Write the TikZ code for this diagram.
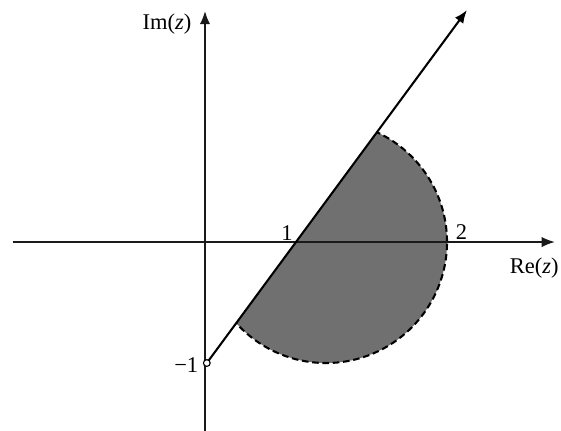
\documentclass[tikz,border=0pt]{standalone}
\usepackage{fontspec}
\setmainfont{Liberation Serif}
\usetikzlibrary{arrows.meta}
\definecolor{regionfill}{HTML}{707070}
\definecolor{axes}{HTML}{1A1A1A}

\begin{document}
\begin{tikzpicture}[x=2.27cm, y=2.27cm, font=\fontsize{12}{14}\selectfont]
  \useasboundingbox (-1.694, -1.554) rectangle (2.942, 2.0);

  % Key points
  \coordinate (xl) at (-1.59, 0);
  \coordinate (xr) at (2.89, 0);
  \coordinate (yb) at (0, -1.56);
  \coordinate (yt) at (0, 1.91);
  \coordinate (m1) at (0.015, -1);
  \coordinate (tip) at (2.165, 1.917);
  \coordinate (c) at (1, 0);

  % Half disc to the right of the ray
  \begin{scope}
    \clip (m1) -- (tip) -- (2.94, 1.917) -- (2.94, -1.55) -- (0.015, -1.55) -- cycle;
    \fill[regionfill] (c) circle (1);
    \draw[line width=1.1pt, dash pattern=on 3.5pt off 2pt] (c) circle (1);
  \end{scope}

  % Axes
  \draw[-{Latex[length=7pt, width=5.5pt]}, semithick, draw=axes] (xl) -- (xr);
  \draw[-{Latex[length=7pt, width=5.5pt]}, line width=1.1pt, draw=axes] (yb) -- (yt);

  % Ray from -1
  \draw[-{Latex[length=7pt, width=5.5pt]}, line width=1.1pt] (m1) -- (tip);
  \filldraw[fill=white, draw=black, semithick] (m1) circle (1.8pt);

  % Labels
  \node (imlab) at (-0.314, 1.80) {Im(\textit{z})};
  \node (relab) at (2.72, -0.215) {Re(\textit{z})};
  \node (one) at (0.678, 0.07) {1};
  \node (two) at (2.12, 0.083) {2};
  \node (mone) at (-0.155, -1.02) {−1};
\end{tikzpicture}
\end{document}
